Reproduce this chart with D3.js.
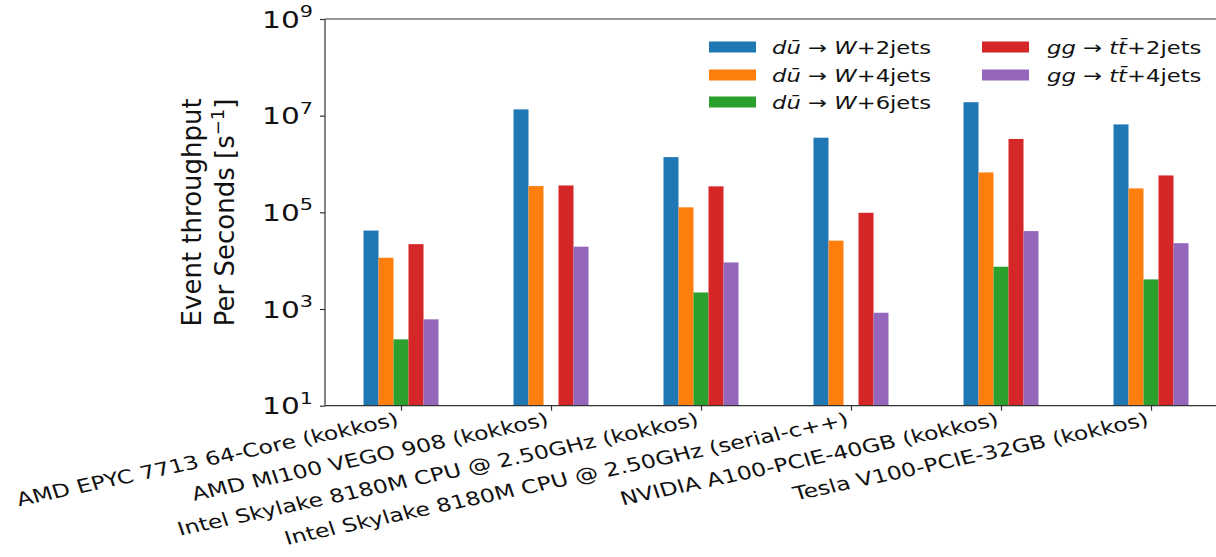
<!DOCTYPE html>
<html>
<head>
<meta charset="utf-8">
<script src="https://cdn.jsdelivr.net/npm/d3@7"></script>
<style>
  html, body { margin: 0; padding: 0; background: #fff; }
  svg { display: block; font-family: "DejaVu Sans", sans-serif; }
</style>
</head>
<body>
<svg id="chart" width="1216" height="557"></svg>
<script>
// ---------------- data ----------------
const categories = [
  "AMD EPYC 7713 64-Core (kokkos)",
  "AMD MI100 VEGO 908 (kokkos)",
  "Intel Skylake 8180M CPU @ 2.50GHz (kokkos)",
  "Intel Skylake 8180M CPU @ 2.50GHz (serial-c++)",
  "NVIDIA A100-PCIE-40GB (kokkos)",
  "Tesla V100-PCIE-32GB (kokkos)"
];
const seriesLabels = [
  "$dū → W$+2jets",
  "$dū → W$+4jets",
  "$dū → W$+6jets",
  "$gg → tt̄$+2jets",
  "$gg → tt̄$+4jets"
];
const wJets2 = [4.2e4, 1.35e7, 1.39e6, 3.5e6, 1.9e7, 6.6e6];
const wJets4 = [1.15e4, 3.5e5, 1.27e5, 2.6e4, 6.7e5, 3.13e5];
const wJets6 = [236, null, 2.2e3, null, 7.5e3, 4.1e3];
const ttJets2 = [2.2e4, 3.6e5, 3.45e5, 9.8e4, 3.3e6, 5.8e5];
const ttJets4 = [612, 1.95e4, 9.2e3, 837, 4.1e4, 2.3e4];
const seriesValues = [wJets2, wJets4, wJets6, ttJets2, ttJets4];
const yTickExponents = [1, 3, 5, 7, 9];
const yLabelLines = ["Event throughput", "Per Seconds [s^{−1}]"];

// ---------------- layout / style ----------------
const colors = ["#1f77b4", "#ff7f0e", "#2ca02c", "#d62728", "#9467bd"];
const SX = 1.26;           // horizontal stretch of the original image
const plotLeft = 325, plotTop = 19, plotBottom = 405.7;
const unit = 150;          // px per category
const barW = 0.1;          // in category units

const svg = d3.select("#chart");

const x = d3.scaleLinear()
  .domain([-0.5067, 5.6])
  .range([plotLeft, plotLeft + unit * (5.6 + 0.5067)]);
const y = d3.scaleLog().domain([10, 1e9]).range([plotBottom, plotTop]);

// bars
const nS = seriesValues.length;
seriesValues.forEach((vals, k) => {
  const off = (k - (nS - 1) / 2) * barW;
  svg.append("g").selectAll("rect")
    .data(vals.map((v, i) => ({ v, i })).filter(d => d.v != null))
    .join("rect")
    .attr("x", d => x(d.i + off - barW / 2))
    .attr("width", d => x(d.i + off + barW / 2) - x(d.i + off - barW / 2))
    .attr("y", d => y(d.v))
    .attr("height", d => plotBottom - y(d.v))
    .attr("fill", colors[k]);
});

// spines
const axisColor = "#333";
svg.append("line").attr("x1", plotLeft).attr("x2", plotLeft).attr("y1", plotTop).attr("y2", plotBottom)
  .attr("stroke", axisColor).attr("stroke-width", 1.2);
svg.append("line").attr("x1", plotLeft).attr("x2", 1216).attr("y1", plotTop).attr("y2", plotTop)
  .attr("stroke", axisColor).attr("stroke-width", 1.2);
svg.append("line").attr("x1", plotLeft).attr("x2", 1216).attr("y1", plotBottom).attr("y2", plotBottom)
  .attr("stroke", axisColor).attr("stroke-width", 1.2);

// y axis ticks via d3 axis (labels drawn custom for superscripts)
const yAxis = d3.axisLeft(y)
  .tickValues(yTickExponents.map(e => Math.pow(10, e)))
  .tickSize(5).tickFormat("");
const gy = svg.append("g").attr("transform", `translate(${plotLeft},0)`).call(yAxis);
gy.select(".domain").remove();
gy.selectAll(".tick line").attr("stroke", axisColor).attr("stroke-width", 1.2);

yTickExponents.forEach(e => {
  const g = svg.append("g")
    .attr("transform", `translate(${plotLeft - 12},${y(Math.pow(10, e)) + 8.5}) scale(${SX},1)`);
  const t = g.append("text").attr("text-anchor", "end")
    .attr("font-size", 23.5).attr("fill", "#111");
  t.append("tspan").text("10");
  t.append("tspan").attr("font-size", 16.5).attr("dy", -10.5).text(String(e));
});

// x axis ticks
const xAxis = d3.axisBottom(x).tickValues(d3.range(categories.length)).tickSize(5).tickFormat("");
const gx = svg.append("g").attr("transform", `translate(0,${plotBottom})`).call(xAxis);
gx.select(".domain").remove();
gx.selectAll(".tick line").attr("stroke", axisColor).attr("stroke-width", 1.2);

categories.forEach((c, i) => {
  svg.append("g")
    .attr("transform", `translate(${x(i) - 1},${plotBottom + 19.5}) scale(${SX},1) rotate(-15)`)
    .append("text")
    .attr("text-anchor", "end")
    .attr("font-size", 18.7)
    .attr("fill", "#111")
    .text(c);
});

// y label (two lines, rotated)
const yl = svg.append("g").attr("transform", `translate(0,${(plotTop + plotBottom) / 2})`);
yLabelLines.forEach((line, j) => {
  const t = yl.append("text")
    .attr("transform", `translate(${201 + j * 33},0) rotate(-90)`)
    .attr("text-anchor", "middle")
    .attr("font-size", 26)
    .attr("fill", "#111");
  const m = line.match(/^(.*)\^\{(.*)\}(.*)$/);
  if (m) {
    t.append("tspan").text(m[1]);
    t.append("tspan").attr("font-size", 18).attr("dy", -10).text(m[2]);
    t.append("tspan").attr("dy", 10).text(m[3]);
  } else {
    t.text(line);
  }
});

// legend
function addMathLabel(textSel, label) {
  const parts = label.split("$");
  parts.forEach((p, idx) => {
    if (!p) return;
    if (idx % 2 === 1) {
      const tokens = p.match(/[A-Za-z][\u0300-\u036f]?|ū|[^A-Za-zū]+/g);
      tokens.forEach(tok => {
        const italic = /[A-Za-zū]/.test(tok);
        textSel.append("tspan").attr("font-style", italic ? "italic" : "normal").text(tok);
      });
    } else {
      textSel.append("tspan").attr("font-style", "normal").text(p);
    }
  });
}
const legendCols = [
  { hx: 709, tx: 772 },
  { hx: 982, tx: 1047 }
];
const rowY = [47, 75, 102];
seriesLabels.forEach((lab, k) => {
  const col = k < 3 ? 0 : 1;
  const row = k < 3 ? k : k - 3;
  const cy = rowY[row];
  svg.append("rect")
    .attr("x", legendCols[col].hx).attr("y", cy - 5.5)
    .attr("width", 47).attr("height", 11)
    .attr("fill", colors[k]);
  const t = svg.append("g")
    .attr("transform", `translate(${legendCols[col].tx},${cy + 7}) scale(${SX},1)`)
    .append("text").attr("font-size", 18).attr("fill", "#111");
  addMathLabel(t, lab);
});
</script>
</body>
</html>
